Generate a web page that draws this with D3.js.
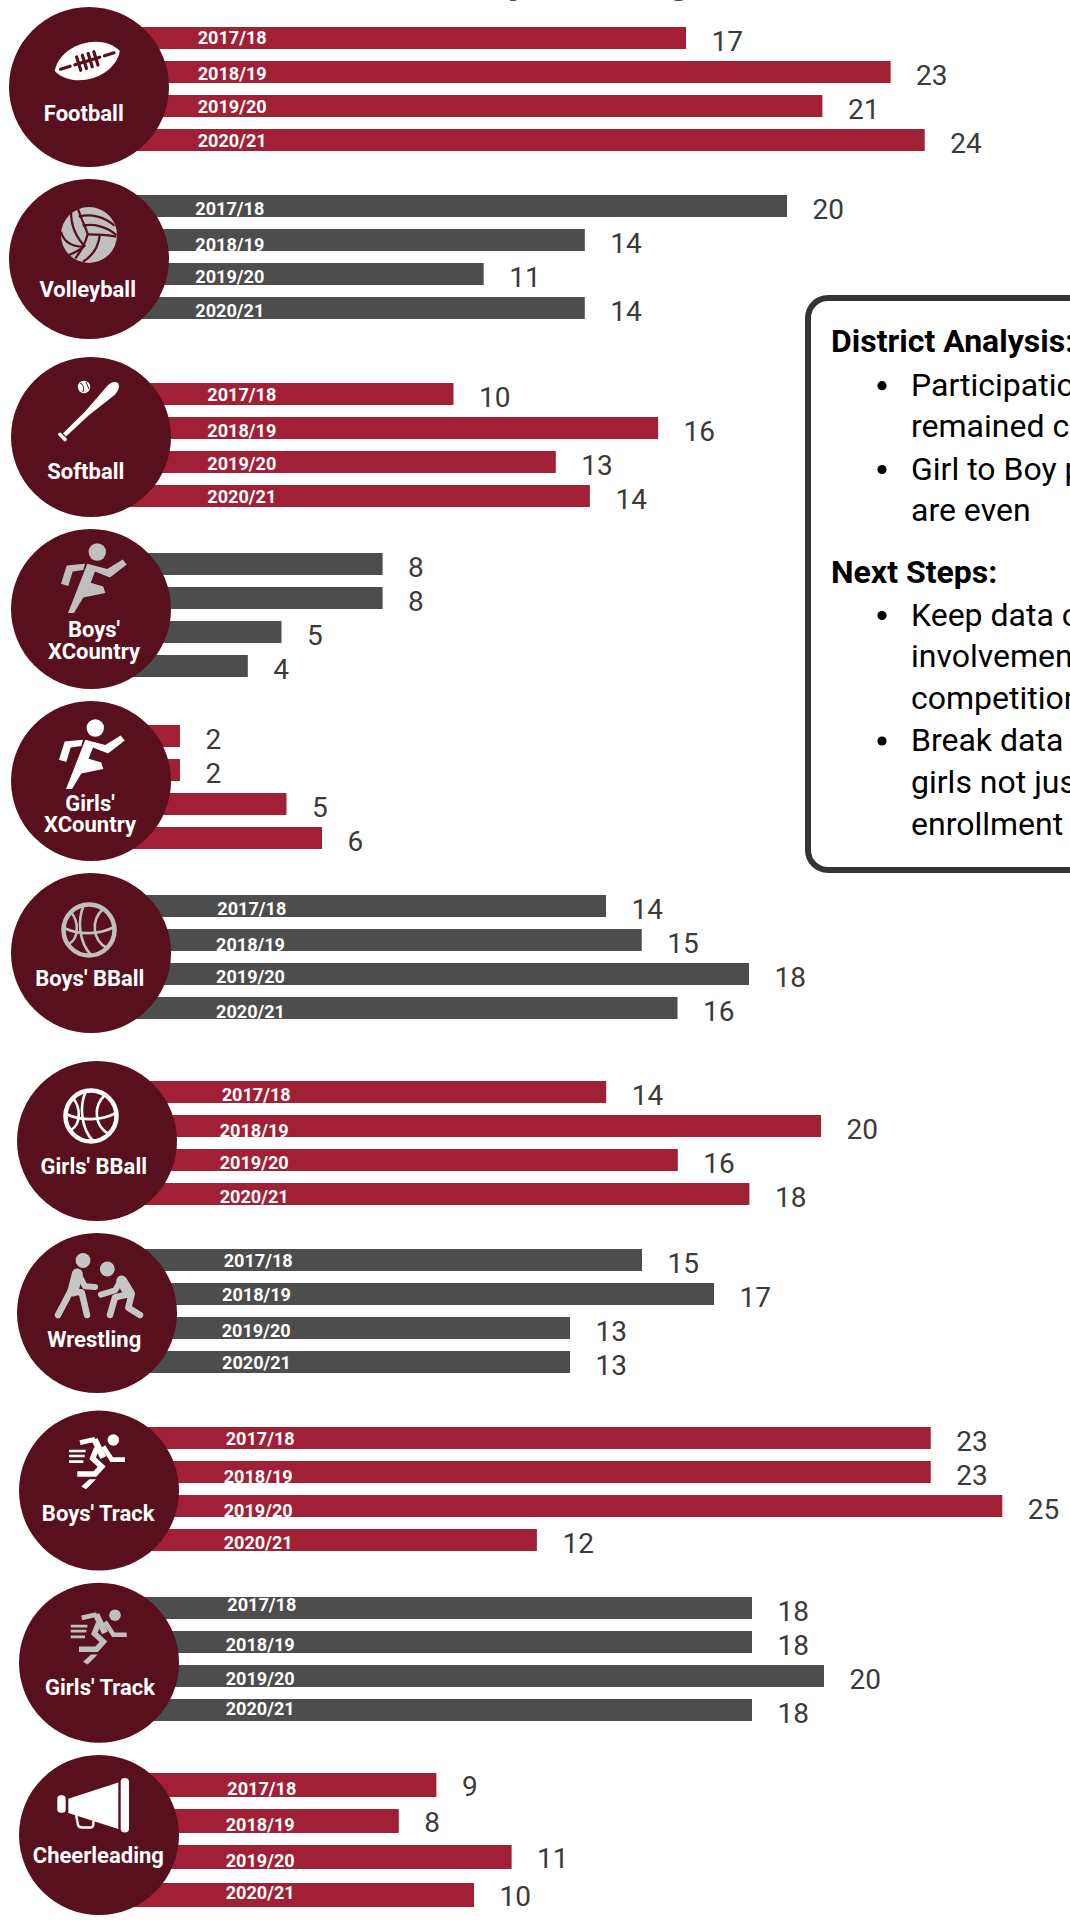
<!DOCTYPE html>
<html><head><meta charset="utf-8">
<script src="https://cdnjs.cloudflare.com/ajax/libs/d3/7.8.5/d3.min.js"></script>
<style>html,body{margin:0;padding:0;background:#fff;overflow:hidden}svg{display:block}text{font-family:Roboto,sans-serif}</style>
</head><body><div id="chart"></div>
<script>
// ---------- data ----------
const seasons = ["2017/18","2018/19","2019/20","2020/21"];
const sports = ["football","volleyball","softball","boysXC","girlsXC","boysBBall","girlsBBall","wrestling","boysTrack","girlsTrack","cheer"];
const football   = [17,23,21,24];
const volleyball = [20,14,11,14];
const softball   = [10,16,13,14];
const boysXC     = [8,8,5,4];
const girlsXC    = [2,2,5,6];
const boysBBall  = [14,15,18,16];
const girlsBBall = [14,20,16,18];
const wrestling  = [15,17,13,13];
const boysTrack  = [23,23,25,12];
const girlsTrack = [18,18,20,18];
const cheer      = [9,8,11,10];
const seriesValues = [football,volleyball,softball,boysXC,girlsXC,boysBBall,girlsBBall,wrestling,boysTrack,girlsTrack,cheer];
const sportLabels = [["Football"],["Volleyball"],["Softball"],["Boys'","XCountry"],["Girls'","XCountry"],["Boys' BBall"],["Girls' BBall"],["Wrestling"],["Boys' Track"],["Girls' Track"],["Cheerleading"]];
const analysisHead = "District Analysis:";
const analysisItems = ["Participation","remained c","Girl to Boy p","are even"];
const nextHead = "Next Steps:";
const nextItems = ["Keep data c","involvement","competition","Break data","girls not just","enrollment"];
const titleFragments = ["p","g"];

// ---------- layout (kept apart from the data) ----------
const layout = {
  zero:   [106.3,113,112.5,113,109,105.5,105,102,107.3,104,98],
  unit:   [34.1,33.7,34.1,33.7,35.5,35.75,35.8,36,35.8,36,37.6],
  top:    [27,195,383,553,725,895,1081,1249,1427,1597,1773],
  rows:   [[0,34,68,102],[0,34,68,102],[0,34,68,102],[0,34,68,102],[0,34,68,102],[0,34,68,102],[0,34,68,102],[0,34,68,102],[0,34,68,102],[0,34,68,102],[0,36,72,110]],
  barH:   [22,22,22,22,22,22,22,22,22,22,24],
  cx:     [89,89,91,91,91,91,97,97,99,99,99],
  cy:     [87,259,437,609,781,953,1141,1313,1490.6,1662.8,1835],
  labelCx:[83.8,87.7,85.8,94,90,89.8,93.8,94.2,98.2,100,98.3],
  labelY: [[120.7],[296.7],[478.8],[636.8,658.5],[810.7,832.4],[985.5],[1174],[1346.6],[1520.9],[1694.8],[1863]],
  yearX:  [[197.7,197.7,197.7,197.7],[195.3,195.3,195.3,195.3],[207.3,207.3,207.3,207.3],null,null,[217.3,216,216,216],[221.7,219.7,219.7,219.7],[223.7,222,221.7,222],[225.7,223.7,223.7,223.7],[227.3,225.7,225.7,225.7],[227.3,225.7,225.7,225.7]],
  yearY:  [[17.3,19.3,17.7,17.7],[19.7,21.7,20,20],[18.3,20,18.5,18.2],null,null,[20,22,20,20.7],[20,22,20,20.3],[18.4,18,20,18.3],[18.2,21.6,21.5,19.7],[14.3,20.3,20.2,15.8],[21.8,22.3,22.4,16]],
  valueDy:[24,24,24,24,24,24,24,24,24,24,23],
};
const CRIMSON="#a22035", GRAY="#4d4d4d", MAROON="#580f1e", LIGHT="#bfbfbf", WHITE="#ffffff", INK="#3a3a3a";
const barColor = i => i%2===0 ? CRIMSON : GRAY;

const svg = d3.select("#chart").append("svg").attr("width",1070).attr("height",1922).attr("viewBox","0 0 1070 1922");

// ---------- title, only its descenders fall inside the page ----------
svg.selectAll("text.title").data(titleFragments).join("text").attr("class","title")
  .attr("x",(d,i)=>[508,668][i]).attr("y",-7).attr("font-size",40).attr("font-weight",700).attr("fill","#444").text(d=>d);

// ---------- panel ----------
const panel = svg.append("g");
panel.append("rect").attr("x",808).attr("y",298).attr("width",400).attr("height",572).attr("rx",20)
  .attr("fill","#fff").attr("stroke","#333333").attr("stroke-width",6);
const panelText = (t,x,y,w)=>panel.append("text").text(t).attr("x",x).attr("y",y).attr("font-size",32).attr("font-weight",w).attr("fill","#000");
panelText(analysisHead,831,352,700);
panelText(nextHead,831,583,700);
const bullets=(lines,ys,dots)=>{
  lines.forEach((t,i)=>panelText(t,911,ys[i],400));
  dots.forEach(i=>panel.append("circle").attr("cx",882).attr("cy",ys[i]-10).attr("r",4.6).attr("fill","#000"));
};
bullets(analysisItems,[395.7,437,479.5,521],[0,2]);
bullets(nextItems,[625.5,667,709,751,793,835],[0,3]);

// ---------- bars ----------
sports.forEach((s,g)=>{
  const values = seriesValues[g];
  const x = d3.scaleLinear().domain([0,25]).range([layout.zero[g], layout.zero[g]+25*layout.unit[g]]);
  const y = d3.scaleOrdinal().domain(seasons).range(layout.rows[g].map(r=>layout.top[g]+r));
  const rows = seasons.map((season,i)=>({season,i,value:values[i]}));
  const grp = svg.append("g").attr("class","sport "+s);
  grp.selectAll("rect.bar").data(rows).join("rect").attr("class","bar")
    .attr("x",x(0)).attr("y",d=>y(d.season)).attr("width",d=>x(d.value)-x(0)).attr("height",layout.barH[g])
    .attr("fill",barColor(g));
  grp.selectAll("text.value").data(rows).join("text").attr("class","value")
    .attr("x",d=>x(d.value)+25.5).attr("y",d=>y(d.season)+layout.valueDy[g])
    .attr("font-size",28).attr("fill",INK).text(d=>d.value);
  if(layout.yearX[g]){
    grp.selectAll("text.year").data(rows).join("text").attr("class","year")
      .attr("x",d=>layout.yearX[g][d.i]).attr("y",d=>y(d.season)+layout.yearY[g][d.i])
      .attr("font-size",18.1).attr("font-weight",700).attr("fill",WHITE).text(d=>d.season);
  }
});

// ---------- circles, icons, names ----------
const icon = {
  football(g,c){
    const h=g.append("g").attr("transform","translate(-1.7,-26) rotate(-17)");
    h.append("path").attr("fill",c).attr("d","M-34,0 C-22,-24 22,-24 34,0 C22,24 -22,24 -34,0 Z");
    const l=h.append("g").attr("stroke",MAROON).attr("stroke-width",3.2).attr("stroke-linecap","round").attr("fill","none");
    l.append("path").attr("d","M-28,0 H-18 M-13,0 H13 M18,0 H28");
    [-9,-3,3,9].forEach(v=>l.append("path").attr("d",`M${v},-7 V7`));
  },
  volleyball(g,c){
    const h=g.append("g").attr("transform","translate(0,-24)");
    h.append("circle").attr("r",28).attr("fill",c);
    const l=h.append("g").attr("stroke",MAROON).attr("stroke-width",2.3).attr("fill","none");
    ["M-11,-26 C-7,-14 -3,-7 -1.3,-0.7",
     "M-18,-23.3 C-18,-8.3 -12,3.3 -3.7,11.7",
     "M-10.3,-18.3 C1.3,-21.7 16.3,-18.3 25.3,-9.3",
     "M-6.3,-9.3 C4.7,-11.7 18,-8.3 27.3,0",
     "M-1.3,-0.7 C6.3,-0.7 16.3,-0.7 27.3,1.7",
     "M-1.3,-0.7 C-3.7,8.3 -7,15 -13.7,23.3",
     "M10.7,0.7 C9.7,10 4.7,20 -6,26.7",
     "M-28,-3.3 C-25.3,6.7 -17,11.7 -5.3,11.7",
     "M-5.3,11.7 C-10,16 -15,18 -20,20"].forEach(d=>l.append("path").attr("d",d));
  },
  softball(g,c){
    g.append("circle").attr("cx",-7).attr("cy",-50).attr("r",6.2).attr("fill",c);
    g.append("path").attr("stroke",MAROON).attr("stroke-width",1).attr("fill","none").attr("d","M-11,-54 Q-6,-52 -8,-45 M-5,-55 Q-3,-50 -2,-48");
    g.append("path").attr("fill",c).attr("d","M-28,-3.8 L-6.3,-25.1 L16.2,-51 Q22,-57 27,-54 Q30,-50 24.2,-42.6 L-2.7,-21.3 L-25,-0.6 Z");
    g.append("path").attr("stroke",c).attr("stroke-width",3.6).attr("stroke-linecap","round").attr("d","M-31,-2.5 L-26,2.5");
  },
  runner(g,c){
    const h=g.append("g");
    h.append("circle").attr("cx",6.3).attr("cy",-57).attr("r",8.7).attr("fill",c);
    h.append("path").attr("fill",c).attr("d","M-30,-25.2 L-24.3,-43.4 L-6,-45.2 L-7.7,-39 L-18.3,-37.6 L-22.7,-23.1 Z");
    h.append("path").attr("fill",c).attr("d","M-3.7,-45.2 L16.3,-40 L31.7,-49.6 L35.7,-44.5 L19,-31.4 L4,-37.6 L-0.3,-26.2 L12.3,-22.4 L14.3,-15.9 L-7.7,-11.4 L-17,4 L-23,4 Z");
  },
  basketball(g,c,dx,dy){
    const h=g.append("g").attr("transform",`translate(${dx},${dy})`);
    h.append("circle").attr("r",25.5).attr("fill","none").attr("stroke",c).attr("stroke-width",4.5);
    const l=h.append("g").attr("stroke",c).attr("stroke-width",2.6).attr("fill","none");
    l.append("path").attr("d","M-25,-2 C-10,5 10,5 25,-3");
    l.append("path").attr("d","M-5,-25 C-12,-10 -10,12 2,25");
    l.append("path").attr("d","M-18,-18 C-10,-8 -10,8 -20,14");
    l.append("path").attr("d","M14,-21 C2,-10 3,10 18,18");
  },
  wrestlers(g,c){
    const h=g.append("g").attr("fill","none").attr("stroke",c).attr("stroke-linecap","round").attr("stroke-linejoin","round");
    g.append("circle").attr("cx",-14).attr("cy",-52.5).attr("r",7.4).attr("fill",c);
    g.append("circle").attr("cx",10.3).attr("cy",-44).attr("r",7.4).attr("fill",c);
    h.append("path").attr("stroke-width",11).attr("d","M-19.7,-39 L-24,-22");
    h.append("path").attr("stroke-width",6).attr("d","M-19.7,-41 L-12,-26.7 L-2,-26");
    h.append("path").attr("stroke-width",6.5).attr("d","M-27,-20.8 L-39,2");
    h.append("path").attr("stroke-width",6.5).attr("d","M-24,-20.8 L-15.3,-20.8 L-10,2");
    h.append("path").attr("stroke-width",11).attr("d","M24.7,-32 L32,-20");
    h.append("path").attr("stroke-width",6).attr("d","M24.7,-34 L18,-22.6 L4,-18.4");
    h.append("path").attr("stroke-width",6.5).attr("d","M32,-19 L18,-15.7 L13,2");
    h.append("path").attr("stroke-width",6.5).attr("d","M34.7,-19 L31.3,-5.3 L43,2");
  },
  sprinter(g,c,dx,dy){
    const h=g.append("g").attr("transform",`translate(${dx},${dy})`);
    h.append("circle").attr("cx",14.3).attr("cy",-50.6).attr("r",5.8).attr("fill",c);
    const l=h.append("g").attr("fill","none").attr("stroke",c).attr("stroke-linejoin","miter");
    l.append("path").attr("stroke-width",2.7).attr("d","M-30,-39.6 H-13.3 M-30,-34.6 H-14.3 M-30,-29 H-15.7");
    l.append("path").attr("stroke-width",4.8).attr("d","M-19,-47.9 L-4,-51.3");
    l.append("path").attr("stroke-width",6.4).attr("d","M-4.5,-51.3 L4.3,-33");
    l.append("path").attr("stroke-width",4.6).attr("d","M4.3,-44 L12.7,-31 H26");
    l.append("path").attr("stroke-width",5.6).attr("d","M-2.3,-42.3 L-6.3,-32.3 L2.7,-24 L-4,-16.6 H-21.7");
    h.append("path").attr("fill",c).attr("d","M-9.7,-11.3 L-3,-11.3 L-13,-1.3 L-17.7,-4 Z");
  },
  megaphone(g,c){
    g.append("path").attr("fill",c).attr("d","M-30.7,-36.3 L19.3,-52.4 V-5.9 L-30.7,-21.9 Z");
    g.append("rect").attr("x",21.7).attr("y",-57).attr("width",8.3).attr("height",54.6).attr("rx",4).attr("fill",c);
    g.append("rect").attr("x",-41.7).attr("y",-39.8).attr("width",8.4).attr("height",17.6).attr("rx",3.5).attr("fill",c);
    g.append("path").attr("fill","none").attr("stroke",c).attr("stroke-width",2.4).attr("d","M-23,-20.4 L-21,-10 Q-20,-7.5 -17,-7.5 L-8,-7.5 Q-5,-7.5 -5.7,-14");
  }
};
const iconDraw = [
  g=>icon.football(g,WHITE), g=>icon.volleyball(g,LIGHT), g=>icon.softball(g,WHITE),
  g=>icon.runner(g,LIGHT),
  g=>icon.runner(g.append("g").attr("transform","translate(-2,4)"),WHITE),
  g=>icon.basketball(g,LIGHT,-2,-23), g=>icon.basketball(g,WHITE,-6,-25),
  g=>icon.wrestlers(g,"#c6c6c6"),
  g=>icon.sprinter(g,WHITE,0,0), g=>icon.sprinter(g,LIGHT,1.7,3),
  g=>icon.megaphone(g,WHITE)
];
sports.forEach((s,g)=>{
  const c=svg.append("g").attr("class","badge "+s);
  c.append("circle").attr("cx",layout.cx[g]).attr("cy",layout.cy[g]).attr("r",80).attr("fill",MAROON);
  iconDraw[g](c.append("g").attr("transform",`translate(${layout.cx[g]},${layout.cy[g]})`));
  sportLabels[g].forEach((t,i)=>c.append("text").text(t).attr("x",layout.labelCx[g]).attr("y",layout.labelY[g][i])
    .attr("text-anchor","middle").attr("font-size",22).attr("font-weight",700).attr("fill",WHITE));
});
</script></body></html>
